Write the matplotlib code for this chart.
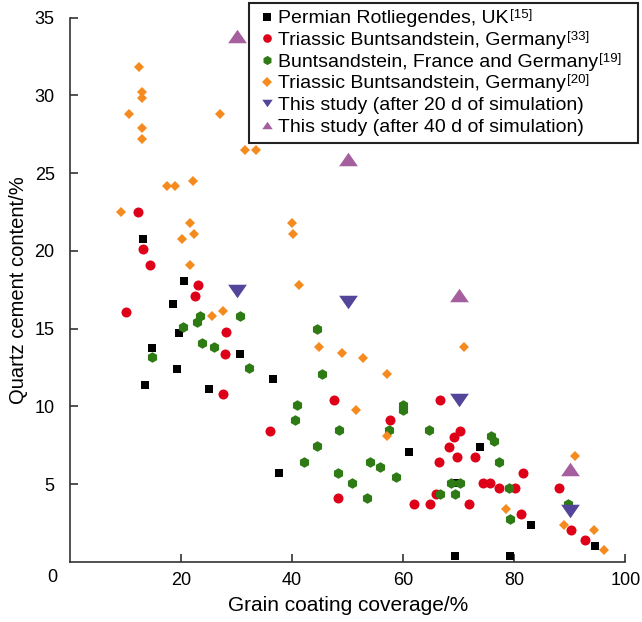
import numpy as np
import matplotlib
matplotlib.use("Agg")
import matplotlib.pyplot as plt
from matplotlib.lines import Line2D

plt.rcParams['font.family'] = ['Liberation Sans', 'DejaVu Sans']

# Permian Rotliegendes, UK
uk_x = [13.2, 20.6, 18.6, 19.7, 14.7, 30.6, 19.2, 13.45, 25.0, 36.5, 37.6, 61.1,
        73.8, 69.4, 83.1, 94.5, 69.3, 79.2]
uk_y = [20.8, 18.1, 16.6, 14.75, 13.75, 13.4, 12.4, 11.4, 11.1, 11.75, 5.7, 7.1,
        7.4, 5.1, 2.4, 1.0, 0.4, 0.4]

# Triassic Buntsandstein, Germany [33]
tb33_x = [12.2, 13.2, 14.4, 23.0, 22.5, 10.1, 28.1, 27.9, 27.6, 36.0, 47.6, 57.7,
          48.3, 62.0, 64.9, 66.0, 66.5, 66.7, 70.3, 69.2, 68.2, 69.7, 73.0, 81.5,
          74.3, 75.7, 77.2, 80.2, 88.1, 71.9, 81.3, 90.3, 92.7]
tb33_y = [22.5, 20.15, 19.1, 17.8, 17.1, 16.1, 14.8, 13.4, 10.8, 8.4, 10.4, 9.1,
          4.1, 3.75, 3.75, 4.4, 6.4, 10.4, 8.4, 8.05, 7.4, 6.75, 6.75, 5.7,
          5.1, 5.1, 4.75, 4.75, 4.75, 3.75, 3.1, 2.05, 1.4]

# Buntsandstein, France and Germany [19]
bfg_x = [23.5, 22.9, 20.3, 30.6, 23.7, 25.9, 14.8, 32.2, 44.4, 45.3, 40.9, 59.9,
         59.9, 40.5, 48.4, 57.4, 64.7, 44.5, 42.2, 54.1, 55.9, 48.3, 50.8, 58.7,
         66.7, 53.5, 75.9, 76.4, 77.2, 68.6, 70.3, 69.4, 79.1, 89.6, 79.2]
bfg_y = [15.8, 15.45, 15.1, 15.8, 14.1, 13.8, 13.15, 12.45, 14.97, 12.1, 10.1, 10.1,
         9.75, 9.1, 8.5, 8.5, 8.5, 7.45, 6.4, 6.4, 6.1, 5.7, 5.1, 5.45,
         4.35, 4.1, 8.1, 7.8, 6.4, 5.1, 5.1, 4.4, 4.75, 3.75, 2.75]

# Triassic Buntsandstein, Germany [20]
tb20_x = [12.4, 12.9, 12.9, 10.7, 27.0, 13.0, 13.0, 31.5, 33.5, 22.2, 17.4, 19.0,
          9.25, 21.6, 22.4, 20.2, 21.6, 39.9, 40.1, 41.2, 25.6, 27.5, 44.8, 48.9,
          52.7, 57.1, 71.0, 51.5, 57.0, 91.0, 78.6, 89.0, 94.3, 96.2]
tb20_y = [31.8, 30.2, 29.85, 28.8, 28.8, 27.9, 27.2, 26.5, 26.5, 24.5, 24.15, 24.15,
          22.5, 21.8, 21.1, 20.8, 19.1, 21.8, 21.1, 17.8, 15.8, 16.15, 13.8, 13.45,
          13.1, 12.1, 13.8, 9.8, 8.1, 6.8, 3.4, 2.4, 2.05, 0.75]

# This study
sim_x = [30, 50, 70, 90]
d20_y = [17.4, 16.7, 10.4, 3.3]
d40_y = [33.8, 25.9, 17.2, 6.0]

labels = ['Permian Rotliegendes, UK',
          'Triassic Buntsandstein, Germany',
          'Buntsandstein, France and Germany',
          'Triassic Buntsandstein, Germany',
          'This study (after 20 d of simulation)',
          'This study (after 40 d of simulation)']
refs = ['[15]', '[33]', '[19]', '[20]', '', '']

c_black = '#000000'
c_red = '#dd0018'
c_green = '#2e7a14'
c_orange = '#f58a1f'
c_navy = '#53459a'
c_mauve = '#a55f9e'

# flat triangles like the original
tri_up = [(-1, -0.72), (1, -0.72), (0, 0.72)]
tri_down = [(-1, 0.72), (1, 0.72), (0, -0.72)]

fig = plt.figure(figsize=(6.42, 6.22), dpi=100)
ax = fig.add_axes([0.109, 0.0965, 0.865, 0.875])

ax.plot(uk_x, uk_y, 's', color=c_black, ms=6.3, mew=0, zorder=3)
ax.plot(tb33_x, tb33_y, 'o', color=c_red, ms=7.2, mew=0, zorder=3)
ax.plot(bfg_x, bfg_y, 'h', color=c_green, ms=7.6, mew=0, zorder=3)
ax.plot(tb20_x, tb20_y, 'D', color=c_orange, ms=5.3, mew=0, zorder=3)
ax.plot(sim_x, d20_y, linestyle='none', marker=tri_down, color=c_navy, ms=13.5, mew=0, zorder=4)
ax.plot(sim_x, d40_y, linestyle='none', marker=tri_up, color=c_mauve, ms=13.5, mew=0, zorder=4)

ax.set_xlim(0, 100)
ax.set_ylim(0, 35)
ax.set_xticks([20, 40, 60, 80, 100])
ax.set_yticks([5, 10, 15, 20, 25, 30, 35])
ax.text(-0.032, -0.028, '0', transform=ax.transAxes, ha='center', va='center', fontsize=13)

for s in ['top', 'right']:
    ax.spines[s].set_visible(False)
for s in ['left', 'bottom']:
    ax.spines[s].set_linewidth(1.2)
    ax.spines[s].set_color('#333333')
ax.tick_params(direction='in', length=5.5, width=1.2, color='#333333', labelsize=13)
ax.tick_params(axis='y', pad=11)
ax.tick_params(axis='x', pad=7)

ax.set_xlabel('Grain coating coverage/%', fontsize=15, labelpad=5)
ax.set_ylabel('Quartz cement content/%', fontsize=14.5, labelpad=5)

handles = [
    Line2D([], [], ls='none', marker='s', color=c_black, ms=5.5, mew=0),
    Line2D([], [], ls='none', marker='o', color=c_red, ms=6.2, mew=0),
    Line2D([], [], ls='none', marker='h', color=c_green, ms=6.6, mew=0),
    Line2D([], [], ls='none', marker='D', color=c_orange, ms=4.8, mew=0),
    Line2D([], [], ls='none', marker=tri_down, color=c_navy, ms=7.5, mew=0),
    Line2D([], [], ls='none', marker=tri_up, color=c_mauve, ms=7.5, mew=0),
]
# legend box stretched to the width of the original frame
W, H = 642, 622
x0, x1, ytop = 249, 638, 3
leg = fig.legend(handles, labels, loc='upper left',
                 bbox_to_anchor=(x0 / W, 1 - 140 / H, (x1 - x0) / W, (140 - ytop) / H),
                 bbox_transform=fig.transFigure, mode='expand', fontsize=14,
                 frameon=True, fancybox=False, edgecolor='#222222', framealpha=1,
                 handlelength=1.1, handletextpad=0.05, labelspacing=0.21,
                 borderpad=0.35, borderaxespad=0)
leg.get_frame().set_linewidth(1.5)

# superscript references after the legend labels (drawn above the legend frame)
fig.canvas.draw()
inv = fig.transFigure.inverted()
for t, r in zip(leg.get_texts(), refs):
    if not r:
        continue
    bb = t.get_window_extent()
    px, py = inv.transform((bb.x1 + 1, bb.y1 + 1))
    fig.text(px, py, r, fontsize=9.5, ha='left', va='top', zorder=10)

fig.savefig('out.png', dpi=100)
